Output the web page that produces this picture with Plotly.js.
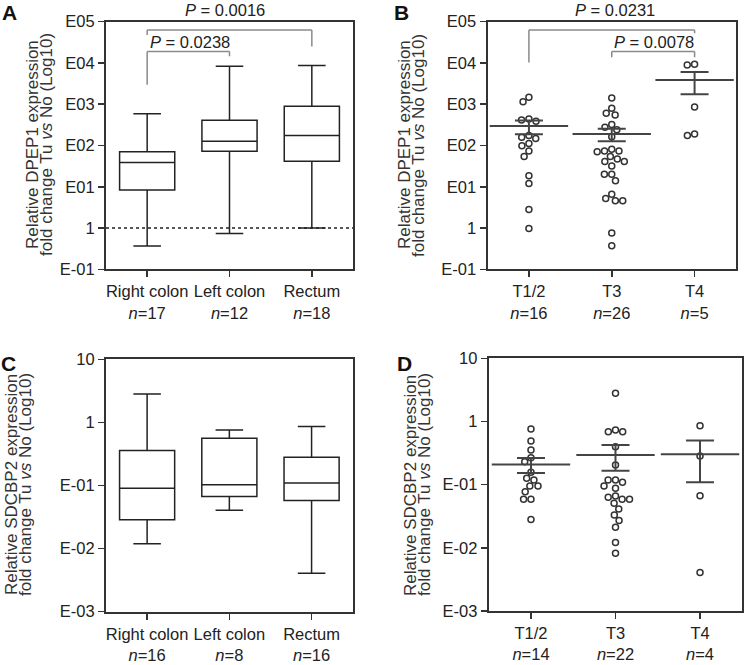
<!DOCTYPE html>
<html>
<head>
<meta charset="utf-8">
<script src="https://cdn.plot.ly/plotly-3.0.1.min.js"></script>
<style>
  html, body { margin: 0; padding: 0; background: #fff; }
  #graph { width: 744px; height: 665px; }
</style>
</head>
<body>
<div id="graph"></div>
<script>
// Panel A / C: box plots by tumour location
const locCats = ['Right colon', 'Left colon', 'Rectum'];
const nA = [17, 12, 18];
const nC = [16, 8, 16];

// DPEP1 boxes (fold change)
const aUpper = [589, 8318, 8710];
const aQ3 = [70.8, 407, 891];
const aMedian = [38.9, 126, 174];
const aQ1 = [8.3, 72.4, 41.7];
const aLower = [0.367, 0.741, 1.0];

// SDCBP2 boxes (fold change)
const cUpper = [2.82, 0.76, 0.859];
const cQ3 = [0.358, 0.561, 0.281];
const cMedian = [0.0908, 0.1026, 0.110];
const cQ1 = [0.0286, 0.067, 0.058];
const cLower = [0.01194, 0.0407, 0.00405];

// Panel B / D: individual values by T stage
const stageCats = ['T1/2', 'T3', 'T4'];
const nB = [16, 26, 5];
const nD = [14, 22, 4];

const bT12 = [1480, 1150, 437, 417, 389, 174, 148, 158, 98, 112, 74, 54, 18.6, 12, 2.8, 0.98];
const bT3 = [1413, 794, 550, 603, 324, 275, 240, 162, 74, 71, 74, 81, 54, 41, 41, 47, 32, 20, 20, 14,
             5.2, 4.6, 4.6, 6.6, 0.76, 0.37];
const bT4 = [8900, 9330, 851, 174, 191];

const dT12 = [0.76, 0.49, 0.354, 0.267, 0.231, 0.157, 0.126, 0.119, 0.095, 0.095, 0.077, 0.059, 0.059, 0.028];
const dT3 = [2.79, 0.69, 0.69, 0.735, 0.399, 0.205, 0.119, 0.119, 0.095, 0.109, 0.0877, 0.0662, 0.0587,
             0.0508, 0.0587, 0.0632, 0.0412, 0.0332, 0.027, 0.0212, 0.0121, 0.0082];
const dT4 = [0.859, 0.284, 0.067, 0.00406];

const W = 744, H = 665;
const FONT = 'Liberation Sans, Arial, sans-serif';
const INK = '#222';

const dom = {
    x1: [106 / W, 353 / W], y1: [1 - 269.3 / H, 1 - 21.7 / H],
    x2: [487.5 / W, 736 / W], y2: [1 - 269.3 / H, 1 - 21.7 / H],
    x3: [106 / W, 352.7 / W], y3: [1 - 611.7 / H, 1 - 359.3 / H],
    x4: [488.7 / W, 742.3 / W], y4: [1 - 611 / H, 1 - 358.3 / H],
};

function tickLabels(cats, ns) {
    return cats.map((c, i) => c + '<br><i>n</i>=' + ns[i]);
}

// simple beeswarm so the open circles don't sit on top of each other
function swarm(vals, pxPerX, pxPerDec, d) {
    const order = vals.map((v, i) => i).sort((a, b) => vals[b] - vals[a]);
    const placed = [];
    const out = new Array(vals.length);
    order.forEach(i => {
        const py = Math.log10(vals[i]) * pxPerDec;
        const near = placed.filter(p => Math.abs(p.y - py) < d);
        const cands = [0];
        near.forEach(p => {
            const dx = Math.sqrt(d * d - (p.y - py) ** 2);
            cands.push(p.x + dx, p.x - dx);
        });
        cands.sort((a, b) => Math.abs(a) - Math.abs(b) || a - b);
        const px = cands.find(c => near.every(p => Math.hypot(p.x - c, p.y - py) >= d - 0.01));
        placed.push({x: px, y: py});
        out[i] = px / pxPerX;
    });
    return out;
}

function meanSem(v) {
    const m = v.reduce((s, x) => s + x, 0) / v.length;
    const sd = Math.sqrt(v.reduce((s, x) => s + (x - m) ** 2, 0) / (v.length - 1));
    return [m, sd / Math.sqrt(v.length)];
}

function dotTraces(groups, xa, ya, pxPerX, pxPerDec) {
    let xs = [], ys = [];
    groups.forEach((g, gi) => {
        const off = swarm(g, pxPerX, pxPerDec, 7.4);
        g.forEach((v, i) => { xs.push(gi + off[i]); ys.push(v); });
    });
    const stats = groups.map(meanSem);
    return [
        {
            type: 'scatter', mode: 'markers', x: xs, y: ys, xaxis: xa, yaxis: ya,
            marker: {symbol: 'circle-open', size: 6, color: '#333', line: {width: 1.5}},
            hoverinfo: 'y',
        },
        {
            type: 'scatter', mode: 'markers', x: [0, 1, 2], y: stats.map(s => s[0]), xaxis: xa, yaxis: ya,
            marker: {symbol: 'line-ew-open', size: 56, color: '#444', line: {width: 2, color: '#444'}},
            error_y: {type: 'data', array: stats.map(s => s[1]), width: 14, thickness: 2, color: '#444'},
            hoverinfo: 'y',
        },
    ];
}

function boxTrace(q1, med, q3, lo, hi, xa, ya) {
    return {
        type: 'box', x: [0, 1, 2], q1: q1, median: med, q3: q3, lowerfence: lo, upperfence: hi,
        xaxis: xa, yaxis: ya, width: 0.67, whiskerwidth: 0.5, boxpoints: false,
        line: {color: INK, width: 1.5}, fillcolor: 'rgba(0,0,0,0)',
    };
}

const pxXB = (736 - 487.5) / 3, pxDecB = (269.3 - 21.7) / 6;
const pxXD = (742.3 - 488.7) / 3, pxDecD = (611 - 358.3) / 4;

const data = [
    boxTrace(aQ1, aMedian, aQ3, aLower, aUpper, 'x', 'y'),
    ...dotTraces([bT12, bT3, bT4], 'x2', 'y2', pxXB, pxDecB),
    boxTrace(cQ1, cMedian, cQ3, cLower, cUpper, 'x3', 'y3'),
    ...dotTraces([dT12, dT3, dT4], 'x4', 'y4', pxXD, pxDecD),
];

const xCommon = {
    range: [-0.5, 2.5], tickvals: [0, 1, 2], ticks: 'outside', ticklen: 6, tickwidth: 1.5,
    tickcolor: '#333', showline: true, linecolor: '#333', linewidth: 2, mirror: true,
    showgrid: false, zeroline: false, tickfont: {size: 16.5, color: INK, family: FONT},
};
const yCommon = {
    type: 'log', ticks: 'outside', ticklen: 6, tickwidth: 1.5, tickcolor: '#333',
    showline: true, linecolor: '#333', linewidth: 2, mirror: true, showgrid: false,
    zeroline: false, tickfont: {size: 16.5, color: INK, family: FONT},
};
const yTopTicks = {
    range: [-1, 5], tickvals: [0.1, 1, 10, 100, 1000, 10000, 100000],
    ticktext: ['E-01', '1', 'E01', 'E02', 'E03', 'E04', 'E05'],
};
const yBotTicks = {
    range: [-3, 1], tickvals: [0.001, 0.01, 0.1, 1, 10],
    ticktext: ['E-03', 'E-02', 'E-01', '1', '10'],
};

// bracket = [xLeft, xRight, yTop, yLeftEnd, yRightEnd]
const bracketsA = [[0, 2, 10 ** 4.80, 10 ** 4.68, 10 ** 4.40], [0, 1, 10 ** 4.28, 10 ** 3.47, 10 ** 4.16]];
const bracketsB = [[0, 2, 10 ** 4.80, 10 ** 4.01, 10 ** 4.72], [1, 2, 10 ** 4.28, 10 ** 4.14, 10 ** 4.14]];

function bracketShapes(list, xa, ya) {
    const ln = {color: '#8a8a8a', width: 1.5};
    const out = [];
    list.forEach(b => {
        out.push({type: 'line', xref: xa, yref: ya, x0: b[0], x1: b[1], y0: b[2], y1: b[2], line: ln});
        out.push({type: 'line', xref: xa, yref: ya, x0: b[0], x1: b[0], y0: b[2], y1: b[3], line: ln});
        out.push({type: 'line', xref: xa, yref: ya, x0: b[1], x1: b[1], y0: b[2], y1: b[4], line: ln});
    });
    return out;
}

const shapes = [
    ...bracketShapes(bracketsA, 'x', 'y'),
    ...bracketShapes(bracketsB, 'x2', 'y2'),
    {type: 'line', xref: 'x domain', yref: 'y', x0: 0, x1: 1, y0: 1, y1: 1,
     line: {color: INK, width: 1.5, dash: 'dot'}},
];

function pAnn(text, xa, ya, x, y) {
    return {text: text, xref: xa, yref: ya, x: x, y: y, showarrow: false,
            font: {size: 16.5, color: INK, family: FONT}, xanchor: 'center', yanchor: 'middle'};
}
function letter(t, px, py) {
    return {text: '<b>' + t + '</b>', xref: 'paper', yref: 'paper', x: px / W, y: 1 - py / H,
            xanchor: 'left', yanchor: 'top', showarrow: false,
            font: {size: 21, color: '#111', family: FONT}};
}
function yTitle(t, px, py) {
    return {text: t, xref: 'paper', yref: 'paper', x: px / W, y: 1 - py / H, textangle: -90,
            xanchor: 'center', yanchor: 'middle', showarrow: false,
            font: {size: 17, color: '#333', family: FONT}};
}
const line2 = 'fold change Tu <i>vs</i> No (Log10)';

const annotations = [
    pAnn('<i>P</i> = 0.0016', 'x', 'paper', 0.95, 1 - 10 / H),
    pAnn('<i>P</i> = 0.0238', 'x', 'y', 0.52, 4.52),
    pAnn('<i>P</i> = 0.0231', 'x2', 'paper', 1.04, 1 - 10 / H),
    pAnn('<i>P</i> = 0.0078', 'x2', 'y2', 1.51, 4.51),
    letter('A', 0, -1), letter('B', 392, -1), letter('C', -1, 350), letter('D', 395, 350),
    yTitle('Relative DPEP1 expression', 32, 145), yTitle(line2, 46, 145),
    yTitle('Relative DPEP1 expression', 404, 145), yTitle(line2, 418, 145),
    yTitle('Relative SDCBP2 expression', 11, 485), yTitle(line2, 25, 485),
    yTitle('Relative SDCBP2 expression', 410, 485), yTitle(line2, 424, 485),
];

const layout = {
    width: W, height: H, margin: {l: 0, r: 0, t: 0, b: 0},
    paper_bgcolor: '#fff', plot_bgcolor: '#fff', showlegend: false,
    font: {family: FONT, color: INK},
    xaxis: {...xCommon, domain: dom.x1, anchor: 'y', ticktext: tickLabels(locCats, nA)},
    yaxis: {...yCommon, ...yTopTicks, domain: dom.y1, anchor: 'x'},
    xaxis2: {...xCommon, domain: dom.x2, anchor: 'y2', ticktext: tickLabels(stageCats, nB)},
    yaxis2: {...yCommon, ...yTopTicks, domain: dom.y2, anchor: 'x2'},
    xaxis3: {...xCommon, domain: dom.x3, anchor: 'y3', ticktext: tickLabels(locCats, nC)},
    yaxis3: {...yCommon, ...yBotTicks, domain: dom.y3, anchor: 'x3'},
    xaxis4: {...xCommon, domain: dom.x4, anchor: 'y4', ticktext: tickLabels(stageCats, nD)},
    yaxis4: {...yCommon, ...yBotTicks, domain: dom.y4, anchor: 'x4'},
    shapes: shapes,
    annotations: annotations,
};

Plotly.newPlot('graph', data, layout, {displayModeBar: false, staticPlot: true});
</script>
</body>
</html>
